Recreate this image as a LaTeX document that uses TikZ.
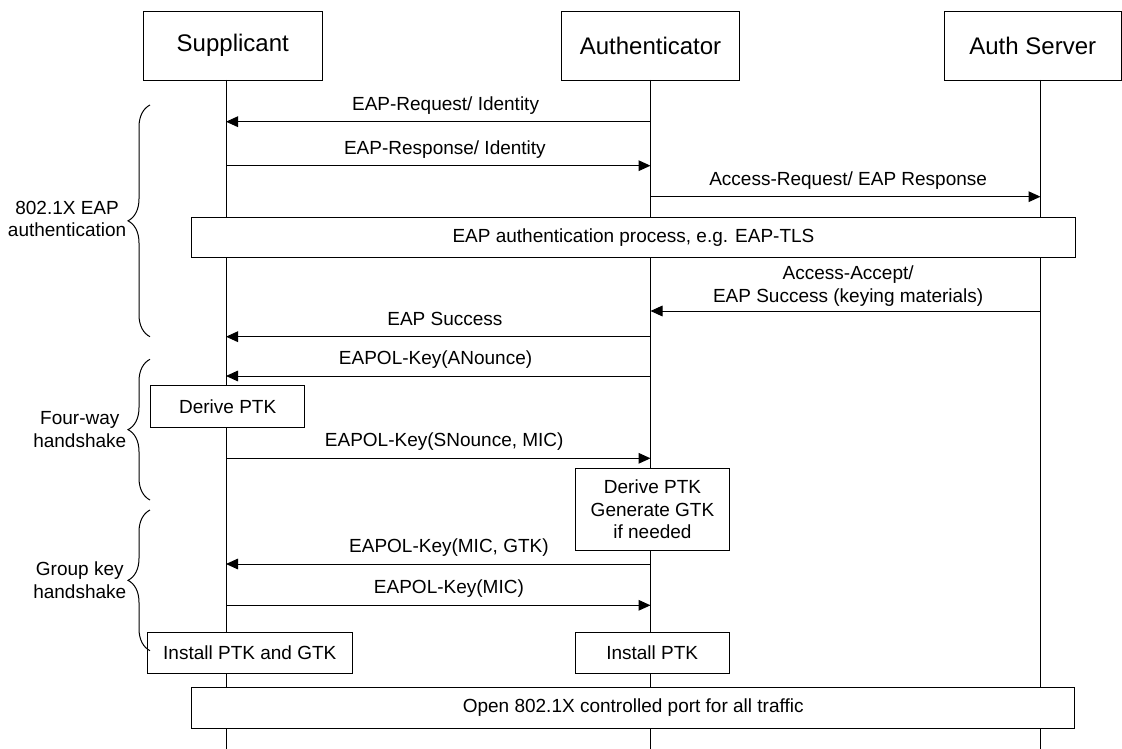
\documentclass[tikz,border=0pt]{standalone}
\usepackage{fontspec}
\setmainfont{Liberation Sans}
\usetikzlibrary{arrows.meta,decorations.pathreplacing}
\newcommand\lblfont{\fontsize{14.25}{17}\selectfont}
\newcommand\headfont{\fontsize{18}{21.6}\selectfont}
\tikzset{
  ink/.style={draw=black, line width=0.75pt},
  head/.style={ink, fill=white, font=\headfont, inner sep=0pt},
  procbox/.style={ink, fill=white, font=\lblfont, inner sep=0pt, align=center},
  life/.style={ink},
  msg/.style={ink, -{Triangle[length=9pt,width=8pt]}},
  lbl/.style={font=\lblfont, anchor=base, inner sep=0pt, yshift=8.6pt},
  grp/.style={ink, decorate, decoration={brace, amplitude=16.5pt}},
  grplbl/.style={font=\lblfont, align=center, anchor=east, inner sep=0pt, xshift=-17.6pt},
}
\begin{document}
\begin{tikzpicture}[x=0.75pt, y=-0.75pt]
\useasboundingbox (0,0) rectangle (1122,749);
\clip (0,0) rectangle (1122,749);

% participants
\node[head, minimum width=133.9pt, minimum height=51.4pt] (hS) at (232.75,45.75) {Supplicant};
\node[head, minimum width=133.5pt, minimum height=51.4pt] (hA) at (650.5,45.75) {Authenticator};
\node[head, minimum width=132.4pt, minimum height=51.4pt] (hAS) at (1032.75,45.75) {Auth Server};

% lifelines
\coordinate (sTop) at (226,80);    \coordinate (sEnd) at (226,749);
\coordinate (aTop) at (650.5,80);  \coordinate (aEnd) at (650.5,749);
\coordinate (asTop) at (1040.5,80); \coordinate (asEnd) at (1040.5,749);
\draw[life] (sTop) -- (sEnd);
\draw[life] (aTop) -- (aEnd);
\draw[life] (asTop) -- (asEnd);

% message rows
\coordinate (r1) at (0,121.7);
\coordinate (r2) at (0,165.7);
\coordinate (r3) at (0,196.7);
\coordinate (r5) at (0,311);
\coordinate (r6) at (0,336.7);
\coordinate (r7) at (0,376);
\coordinate (r9) at (0,458.3);
\coordinate (r11) at (0,564);
\coordinate (r12) at (0,605.3);

% messages
\draw[msg] (aTop |- r1) -- (sTop |- r1) node[lbl, midway, xshift=5.5pt] {EAP-Request/ Identity};
\draw[msg] (sTop |- r2) -- (aTop |- r2) node[lbl, midway, xshift=5pt] {EAP-Response/ Identity};
\draw[msg] (aTop |- r3) -- (asTop |- r3) node[lbl, midway, xshift=2pt] {Access-Request/ EAP Response};
\draw[msg] (asTop |- r5) -- (aTop |- r5) node[midway, font=\lblfont, align=center, anchor=south, inner sep=0pt, yshift=3pt, xshift=2pt] {Access-Accept/\\EAP Success (keying materials)};
\draw[msg] (aTop |- r6) -- (sTop |- r6) node[lbl, midway, xshift=5pt] {EAP Success};
\draw[msg] (aTop |- r7) -- (sTop |- r7) node[lbl, midway, xshift=-2pt] {EAPOL-Key(ANounce)};
\draw[msg] (sTop |- r9) -- (aTop |- r9) node[lbl, midway, xshift=4.5pt] {EAPOL-Key(SNounce, MIC)};
\draw[msg] (aTop |- r11) -- (sTop |- r11) node[lbl, midway, xshift=8pt] {EAPOL-Key(MIC, GTK)};
\draw[msg] (sTop |- r12) -- (aTop |- r12) node[lbl, midway, xshift=8pt] {EAPOL-Key(MIC)};

% activity boxes
\node[procbox, minimum width=662.3pt, minimum height=30.3pt] (eapProc) at (633.5,237.5) {EAP authentication process, e.g. EAP-TLS};
\node[procbox, minimum width=115.5pt, minimum height=31pt] (sDerive) at (227.7,406.6) {Derive PTK};
\node[procbox, minimum width=115.2pt, minimum height=61.8pt] (aDerive) at (652.5,509.5) {Derive PTK\\Generate GTK\\if needed};
\node[procbox, minimum width=153.8pt, minimum height=30.5pt] (sInstall) at (249.8,653) {Install PTK and GTK};
\node[procbox, minimum width=115.7pt, minimum height=30.5pt] (aInstall) at (652.2,653) {Install PTK};
\node[procbox, minimum width=662.3pt, minimum height=30.8pt] (openPort) at (633.2,707.8) {Open 802.1X controlled port for all traffic};

% phase braces
\coordinate (b1t) at (150,105);   \coordinate (b1b) at (150,336.7);
\coordinate (b2t) at (150,359.3); \coordinate (b2b) at (150,500);
\coordinate (b3t) at (150,510);   \coordinate (b3b) at (150,650.7);
\draw[grp] (b1b) -- (b1t);
\draw[grp] (b2b) -- (b2t);
\draw[grp] (b3b) -- (b3t);
\path (b1b) -- (b1t) node[grplbl, midway, yshift=1.5pt] {802.1X EAP\\authentication};
\path (b2b) -- (b2t) node[grplbl, midway] {Four-way\\handshake};
\path (b3b) -- (b3t) node[grplbl, midway] {Group key\\handshake};
\end{tikzpicture}
\end{document}
